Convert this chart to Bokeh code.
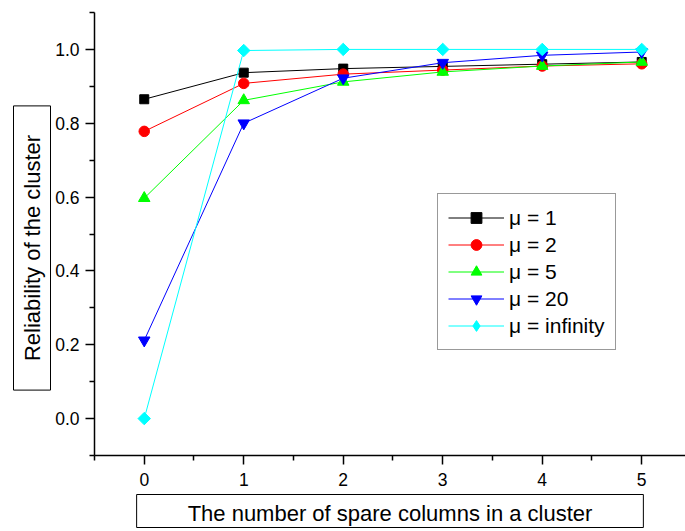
import math
from bokeh.plotting import figure
from bokeh.layouts import row
from bokeh.models import (FixedTicker, PrintfTickFormatter, Title, Label, Legend, LegendItem)
from bokeh.embed import file_html
from bokeh.resources import INLINE

# ---- data ----
spare_columns = [0, 1, 2, 3, 4, 5]
mu_1 = [0.865, 0.937, 0.948, 0.954, 0.960, 0.966]
mu_2 = [0.778, 0.908, 0.933, 0.944, 0.955, 0.961]
mu_5 = [0.597, 0.862, 0.912, 0.939, 0.955, 0.966]
mu_20 = [0.212, 0.800, 0.922, 0.964, 0.984, 0.993]
mu_inf = [0.0, 0.997, 1.0, 1.0, 1.0, 1.0]
series_names = ["\u03bc = 1", "\u03bc = 2", "\u03bc = 5", "\u03bc = 20", "\u03bc = infinity"]
x_major_ticks = [0, 1, 2, 3, 4, 5]
x_minor_ticks = [-0.5, 0.5, 1.5, 2.5, 3.5, 4.5, 5.5]
y_major_ticks = [0.0, 0.2, 0.4, 0.6, 0.8, 1.0]
y_minor_ticks = [-0.1, 0.1, 0.3, 0.5, 0.7, 0.9, 1.1]
x_title = "The number of spare columns in a cluster"
y_title = "Reliability of the cluster"

FONT = "Liberation Sans"
LEFT_W = 52

# ---- narrow side figure holding the boxed y-axis title ----
pl = figure(width=LEFT_W, height=531, output_backend="svg", toolbar_location=None,
            x_range=(0, 1), y_range=(0, 1), x_axis_type=None, y_axis_type=None,
            min_border_left=0, min_border_right=0, min_border_top=0, min_border_bottom=0)
pl.outline_line_color = None
pl.xgrid.visible = False
pl.ygrid.visible = False
pl.background_fill_color = "white"
pl.border_fill_color = "white"
yl = Label(x=31.5, y=207.5, x_units="screen", y_units="screen", text=y_title,
           angle=math.pi / 2,
           text_font=FONT, text_font_size="22px", text_color="black",
           text_align="center", text_baseline="middle",
           border_line_color="black", border_line_width=1,
           background_fill_color="white",
           padding=dict(left=29, right=29, top=6, bottom=6))
pl.add_layout(yl)

# ---- main chart ----
p = figure(width=685 - LEFT_W, height=531, output_backend="svg", toolbar_location=None,
           x_range=(-0.5, 5.44), y_range=(-0.1, 1.1),
           min_border_left=93 - LEFT_W, min_border_right=0, min_border_top=12,
           min_border_bottom=76)
p.outline_line_color = None
p.xgrid.visible = False
p.ygrid.visible = False
p.background_fill_color = "white"
p.border_fill_color = "white"

for ax in (p.xaxis[0], p.yaxis[0]):
    ax.axis_line_width = 1.5
    ax.axis_line_color = "black"
    ax.major_tick_line_width = 1.5
    ax.minor_tick_line_width = 1.5
    ax.major_tick_line_color = "black"
    ax.minor_tick_line_color = "black"
    ax.major_tick_in = 0
    ax.major_tick_out = 9
    ax.minor_tick_in = 0
    ax.minor_tick_out = 5
    ax.major_label_text_font = FONT
    ax.major_label_text_font_size = "17.5px"
    ax.major_label_text_color = "black"

p.xaxis[0].ticker = FixedTicker(ticks=x_major_ticks, minor_ticks=x_minor_ticks)
p.yaxis[0].ticker = FixedTicker(ticks=y_major_ticks, minor_ticks=y_minor_ticks)
p.yaxis[0].formatter = PrintfTickFormatter(format="%.1f")
p.xaxis[0].major_label_standoff = 8
p.yaxis[0].major_label_standoff = 6

colors = ["#000000", "#FF0000", "#00FF00", "#0000FF", "#00FFFF"]
markers = ["square", "circle", "triangle", "inverted_triangle", "square"]
angles = [0, 0, 0, 0, math.pi / 4]
sizes = [9, 10.5, 11.5, 11.5, 8.8]
legend_markers = ["square", "circle", "triangle", "inverted_triangle", "diamond"]
legend_sizes = [10.5, 12.5, 14, 14, 16]

items = []
for name, ys, c, m, a, s, lm, ls in zip(series_names, [mu_1, mu_2, mu_5, mu_20, mu_inf],
                                        colors, markers, angles, sizes, legend_markers, legend_sizes):
    ln = p.line(spare_columns, ys, line_color=c, line_width=1)
    p.scatter(spare_columns, ys, marker=m, size=s, angle=a,
              fill_color=c, line_color=c, line_width=1)
    key = p.scatter(spare_columns, ys, marker=lm, size=ls,
                    fill_color=c, line_color=c, line_width=1, visible=False)
    items.append(LegendItem(label=name, renderers=[ln, key]))

legend = Legend(items=items, location=(343, 105))
legend.glyph_width = 56
legend.glyph_height = 27
legend.label_height = 27
legend.spacing = 0
legend.padding = 10
legend.margin = 0
legend.label_standoff = 5
legend.label_text_font = FONT
legend.label_text_font_size = "21px"
legend.label_text_color = "black"
legend.border_line_color = "#333333"
legend.border_line_width = 1.5
legend.background_fill_color = "white"
legend.background_fill_alpha = 1
p.add_layout(legend)

xt = Title(text=x_title, align="center", offset=2.5, standoff=8,
           text_font=FONT, text_font_size="22px", text_color="black",
           text_font_style="normal",
           border_line_color="black", border_line_width=1,
           background_fill_color="white",
           padding=dict(left=51, right=51, top=6, bottom=2))
p.add_layout(xt, "below")

layout = row(pl, p, spacing=0)
open("out.html", "w").write(file_html(layout, INLINE))
